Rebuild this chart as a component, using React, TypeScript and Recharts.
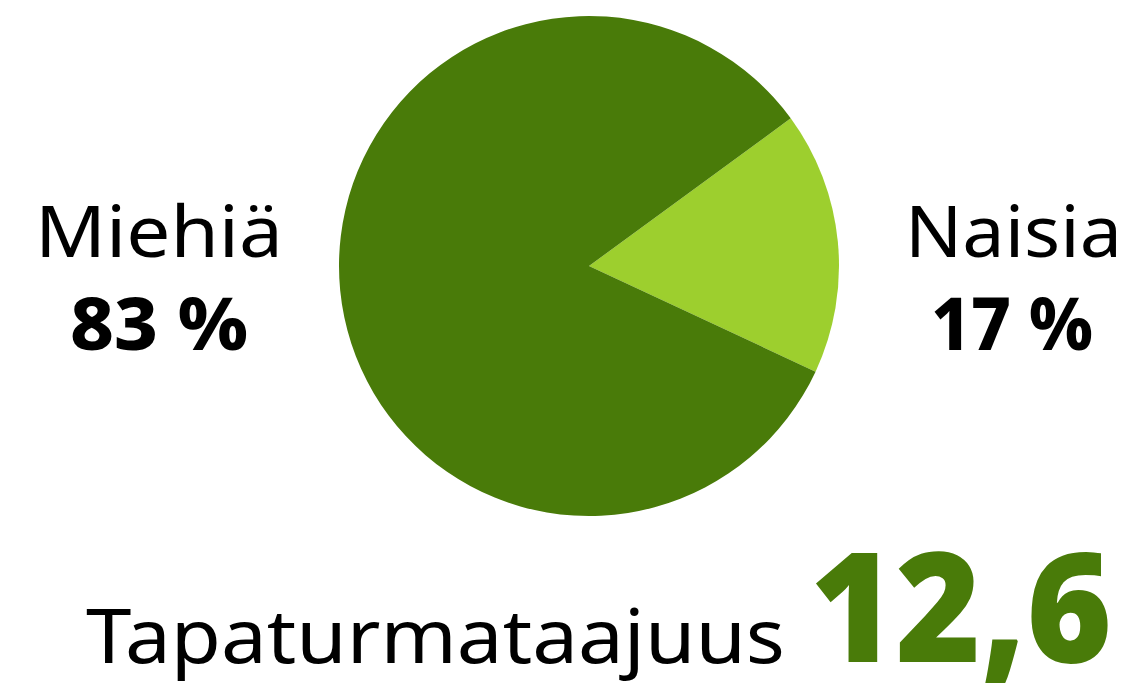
import { PieChart, Pie, Cell } from 'recharts'

const genders = ['Naisia', 'Miehiä']
const shares = [17, 83]
const colors = ['#9DCF2E', '#497B09']
const frequencyLabel = 'Tapaturmataajuus'
const frequencyValue = '12,6'

const rows = genders.map((g, i) => ({ name: g, value: shares[i] }))

export default function App() {
  return (
    <div style={{ position: 'absolute', left: 0, top: 0, width: 1137, height: 685, background: '#fff' }}>
      <PieChart width={1137} height={685} margin={{ top: 0, right: 0, bottom: 0, left: 0 }}>
        <Pie
          data={rows}
          dataKey="value"
          cx={589}
          cy={266}
          outerRadius={250}
          startAngle={-25}
          endAngle={335}
          stroke="none"
          isAnimationActive={false}
        >
          {rows.map((r, i) => <Cell key={r.name} fill={colors[i]} />)}
        </Pie>
      </PieChart>
      <svg width={1137} height={685} style={{ position: 'absolute', left: 0, top: 0 }}>
        <g fontFamily="'Noto Sans', sans-serif" fill="#000">
          <text x={35} y={257} fontSize={72} textLength={248} lengthAdjust="spacingAndGlyphs">{genders[1]}</text>
          <text x={70} y={350} fontSize={74} fontWeight={800} textLength={178} lengthAdjust="spacingAndGlyphs">{shares[1]} %</text>
          <text x={905} y={257} fontSize={72} textLength={217} lengthAdjust="spacingAndGlyphs">{genders[0]}</text>
          <text x={931} y={350} fontSize={74} fontWeight={800} textLength={162} lengthAdjust="spacingAndGlyphs">{shares[0]} %</text>
          <text x={86} y={663} fontSize={75} textLength={699} lengthAdjust="spacingAndGlyphs">{frequencyLabel}</text>
          <text x={810} y={662} fontSize={152} fontWeight={900} fill="#497B09" textLength={302} lengthAdjust="spacingAndGlyphs">{frequencyValue}</text>
        </g>
      </svg>
    </div>
  )
}
